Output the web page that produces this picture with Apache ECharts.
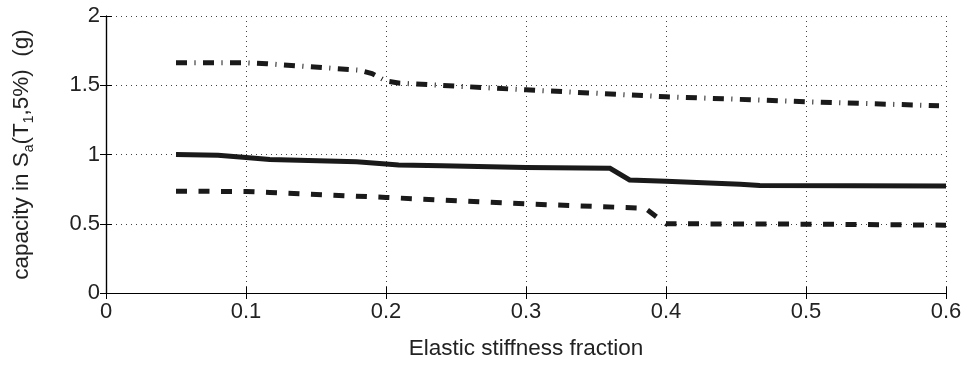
<!DOCTYPE html>
<html>
<head>
<meta charset="utf-8">
<script src="https://cdn.jsdelivr.net/npm/echarts@6/dist/echarts.min.js"></script>
<style>html,body{margin:0;padding:0;background:#fff}#c{width:967px;height:365px}</style>
</head>
<body>
<div id="c"></div>
<script>
// Series data (x = elastic stiffness fraction, y = capacity in g)
const medianX = [0.05, 0.08, 0.1, 0.117, 0.179, 0.2, 0.209, 0.24, 0.3, 0.36, 0.374, 0.4, 0.453, 0.467, 0.6];
const medianY = [1.0, 0.995, 0.979, 0.964, 0.948, 0.931, 0.924, 0.918, 0.907, 0.9, 0.816, 0.806, 0.786, 0.776, 0.772];
const lowerX = [0.05, 0.1, 0.117, 0.2, 0.3, 0.385, 0.4, 0.5, 0.6];
const lowerY = [0.735, 0.733, 0.726, 0.69, 0.643, 0.612, 0.5, 0.497, 0.49];
const upperX = [0.05, 0.1, 0.115, 0.18, 0.19, 0.2, 0.21, 0.3, 0.4, 0.5, 0.595];
const upperY = [1.662, 1.662, 1.655, 1.61, 1.585, 1.53, 1.515, 1.467, 1.417, 1.381, 1.352];
const xTicks = [0, 0.1, 0.2, 0.3, 0.4, 0.5, 0.6];
const yTicks = [0, 0.5, 1, 1.5, 2];

const pairs = (xs, ys) => xs.map((x, i) => [x, ys[i]]);
const FONT = 'Liberation Sans, Arial, sans-serif';
const lineCol = '#1a1a1a';
const gridLine = {show: true, lineStyle: {color: '#444', width: 1, type: [1, 4]}};

const chart = echarts.init(document.getElementById('c'), null, {renderer: 'canvas'});
chart.setOption({
  animation: false,
  backgroundColor: '#fff',
  grid: {left: 106, right: 21, top: 16, bottom: 69, containLabel: false},
  xAxis: [{
    type: 'value', min: 0, max: 0.6, interval: 0.1,
    name: 'Elastic stiffness fraction', nameLocation: 'middle', nameGap: 44,
    nameTextStyle: {fontFamily: FONT, fontSize: 22.5, color: '#222'},
    axisLine: {show: true, onZero: false, lineStyle: {color: '#000', width: 1.2}},
    axisTick: {show: true, inside: true, length: 6, lineStyle: {color: '#000'}},
    axisLabel: {fontFamily: FONT, fontSize: 22, color: '#222', margin: 8,
      formatter: v => xTicks.includes(+v.toFixed(1)) ? String(+v.toFixed(1)) : ''},
    splitLine: gridLine
  }, {
    type: 'value', min: 0, max: 0.6, interval: 0.1, position: 'top',
    axisLine: {show: true, lineStyle: {color: '#000', width: 1.2}},
    axisTick: {show: true, inside: true, length: 6, lineStyle: {color: '#000'}},
    axisLabel: {show: false}, splitLine: {show: false}
  }],
  yAxis: [{
    type: 'value', min: 0, max: 2, interval: 0.5,
    name: 'capacity in S{sub|a}(T{sub|1},5%)  (g)', nameLocation: 'middle', nameGap: 70,
    nameTextStyle: {fontFamily: FONT, fontSize: 22.5, color: '#222',
      rich: {sub: {fontFamily: FONT, fontSize: 14, color: '#222', padding: [15, 0, 0, 0]}}},
    axisLine: {show: true, lineStyle: {color: '#000', width: 1.2}},
    axisTick: {show: true, inside: true, length: 6, lineStyle: {color: '#000'}},
    axisLabel: {fontFamily: FONT, fontSize: 22, color: '#222', margin: 6,
      formatter: v => yTicks.includes(v) ? String(v) : ''},
    splitLine: gridLine
  }, {
    type: 'value', min: 0, max: 2, interval: 0.5, position: 'right',
    axisLine: {show: true, lineStyle: {color: '#000', width: 1.2}},
    axisTick: {show: true, inside: true, length: 6, lineStyle: {color: '#000'}},
    axisLabel: {show: false}, splitLine: {show: false}
  }],
  series: [{
    type: 'line', data: pairs(upperX, upperY), showSymbol: false, symbol: 'none',
    lineStyle: {color: lineCol, width: 5, type: [11, 7.5, 1, 7.5], cap: 'butt', join: 'miter'}
  }, {
    type: 'line', data: pairs(medianX, medianY), showSymbol: false, symbol: 'none',
    lineStyle: {color: lineCol, width: 5, type: 'solid', cap: 'butt', join: 'miter'}
  }, {
    type: 'line', data: pairs(lowerX, lowerY), showSymbol: false, symbol: 'none',
    lineStyle: {color: lineCol, width: 5, type: [11, 11.5], cap: 'butt', join: 'miter'}
  }]
});
</script>
</body>
</html>
